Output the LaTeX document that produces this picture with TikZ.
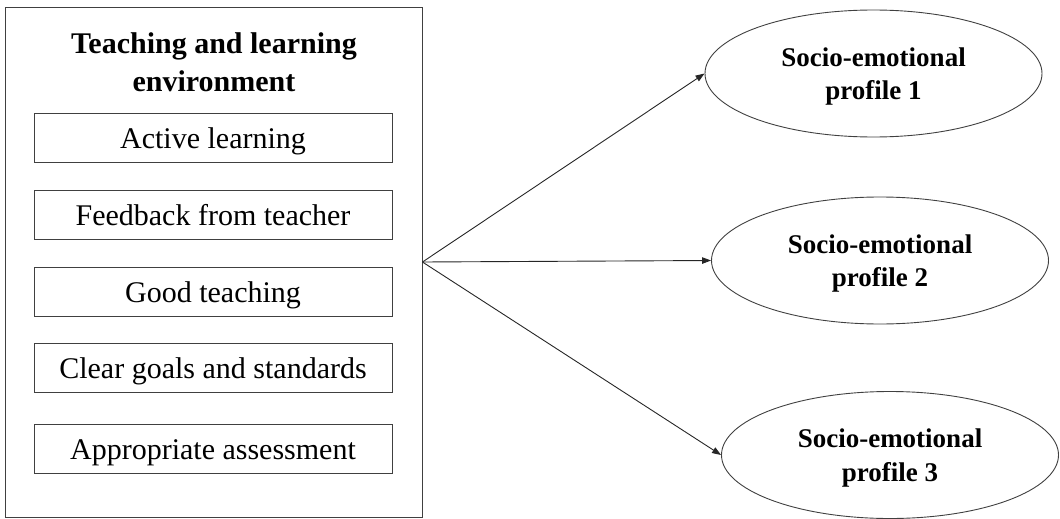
\documentclass[tikz,border=0pt]{standalone}
\usepackage{fontspec}
\setmainfont{Liberation Serif}
\usetikzlibrary{shapes.geometric,arrows.meta}
\begin{document}
\begin{tikzpicture}[x=1pt,y=-1pt,
  frame/.style={draw=black!75, line width=0.9pt},
  item/.style={frame, minimum width=358pt, minimum height=49pt, inner sep=0pt,
    text height=21pt, text depth=0pt, font=\fontsize{30}{36}\selectfont},
  prof/.style={frame, ellipse, minimum width=337pt, minimum height=127pt, inner sep=0pt,
    align=center, text depth=0pt, font=\fontsize{27}{33.6}\selectfont\bfseries},
  link/.style={draw=black!85, line width=0.9pt, -{Triangle[length=9pt,width=6.5pt]}}]
\useasboundingbox (0,0) rectangle (1060,519);
\node[frame, minimum width=417pt, minimum height=510pt, inner sep=0pt] (env) at (213.5,262) {};
\node[font=\fontsize{30}{37.5}\selectfont\bfseries, align=center] (title) at (214,62) {Teaching and learning\\environment};
\node[item] (b1) at (213,137.5) {Active learning};
\node[item] (b2) at (213,215.3) {Feedback from teacher};
\node[item] (b3) at (213,292.3) {Good teaching};
\node[item] (b4) at (213,367.5) {Clear goals and standards};
\node[item] (b5) at (213,449) {Appropriate assessment};
\node[prof] (p1) at (873.5,73.5) {Socio-emotional\\profile 1};
\node[prof] (p2) at (880,260.5) {Socio-emotional\\profile 2};
\node[prof] (p3) at (890,455) {Socio-emotional\\profile 3};
\draw[link] (env.east) -- (p1.west);
\draw[link] (env.east) -- (p2.west);
\draw[link] (env.east) -- (p3.west);
\end{tikzpicture}
\end{document}
